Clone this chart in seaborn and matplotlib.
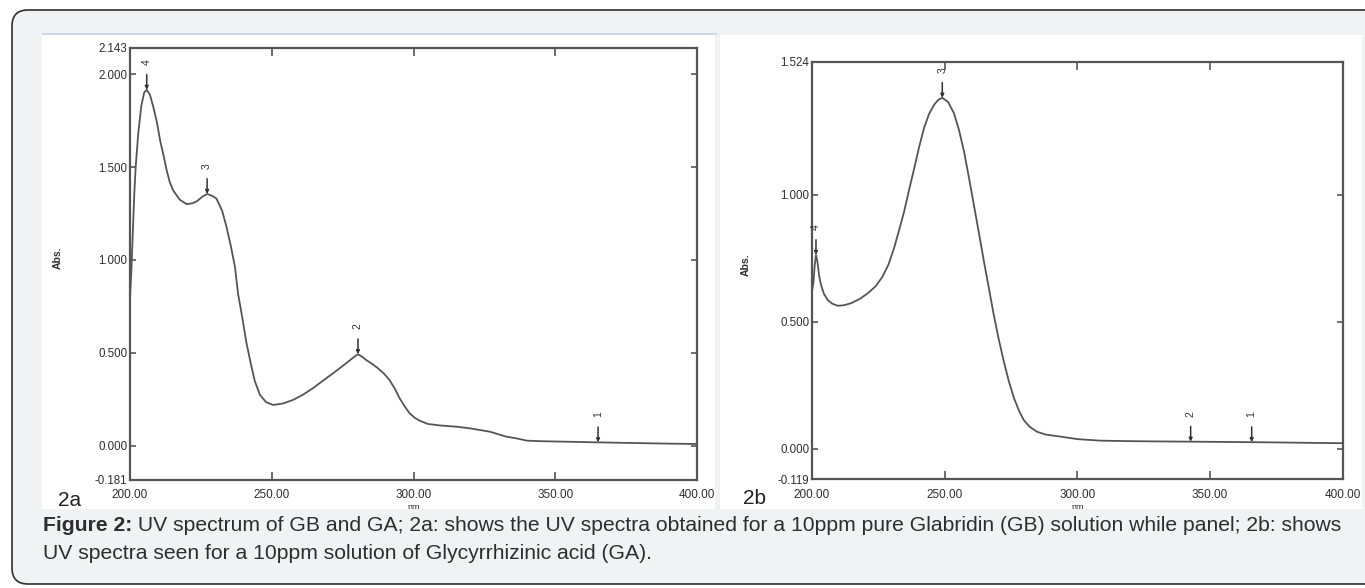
import numpy as np
import pandas as pd
import matplotlib
matplotlib.use("Agg")
import matplotlib.pyplot as plt
import seaborn as sns
from matplotlib.patches import FancyBboxPatch, Rectangle
from matplotlib.transforms import IdentityTransform, Bbox

# --- data ---
gb_nm = [200.0, 200.5, 201.0, 201.5, 202.0, 202.9, 204.0, 205.0, 205.9, 207.0,
         208.2, 209.5, 210.6, 212.0, 212.9, 214.0, 215.2, 217.5, 220.0, 222.0,
         223.5, 225.5, 227.2, 229.0, 230.5, 232.5, 234.0, 235.5, 237.0, 238.1,
         239.5, 241.0, 242.5, 244.0, 245.8, 248.0, 250.5, 254.0, 257.5, 261.0,
         264.5, 268.0, 271.6, 276.3, 278.5, 280.4, 282.0, 283.3, 285.5, 287.4,
         289.5, 291.5, 293.5, 295.1, 297.0, 298.6, 300.5, 302.1, 305.0, 309.2,
         315.2, 320.0, 327.0, 332.6, 336.4, 340.0, 345.0, 355.0, 364.3, 375.0,
         390.0, 400.0]
gb_abs = [0.80, 0.95, 1.15, 1.35, 1.50, 1.68, 1.83, 1.90, 1.915, 1.89,
          1.825, 1.74, 1.645, 1.55, 1.485, 1.42, 1.375, 1.325, 1.30, 1.305,
          1.315, 1.34, 1.355, 1.345, 1.33, 1.265, 1.18, 1.08, 0.965, 0.82,
          0.70, 0.56, 0.45, 0.35, 0.275, 0.235, 0.22, 0.228, 0.247, 0.275,
          0.31, 0.35, 0.39, 0.445, 0.472, 0.493, 0.478, 0.462, 0.44, 0.418,
          0.39, 0.355, 0.305, 0.256, 0.21, 0.176, 0.15, 0.136, 0.118, 0.11,
          0.103, 0.094, 0.076, 0.05, 0.04, 0.028, 0.025, 0.022, 0.019, 0.016,
          0.012, 0.010]
gb_peak_nm = [365.1, 280.4, 227.2, 205.9]
gb_peak_abs = [0.019, 0.493, 1.355, 1.915]
gb_peak_lbl = ["1", "2", "3", "4"]

ga_nm = [200.0, 200.6, 201.0, 201.5, 202.0, 202.7, 203.4, 204.5, 205.9, 207.5,
         209.7, 212.0, 214.7, 218.0, 221.0, 224.0, 226.6, 228.8, 230.9, 232.8,
         234.7, 236.6, 238.5, 240.3, 242.2, 244.1, 246.0, 247.6, 249.1, 251.3,
         253.5, 255.4, 257.3, 259.1, 261.0, 262.9, 264.8, 266.7, 268.5, 270.4,
         272.3, 274.2, 276.1, 278.0, 279.8, 282.0, 284.8, 288.0, 293.6, 300.0,
         308.6, 320.0, 330.0, 342.7, 355.0, 365.7, 375.0, 390.0, 400.0]
ga_abs = [0.62, 0.66, 0.72, 0.763, 0.74, 0.68, 0.645, 0.61, 0.586, 0.572,
          0.563, 0.565, 0.573, 0.59, 0.612, 0.64, 0.678, 0.725, 0.789, 0.86,
          0.933, 1.02, 1.103, 1.185, 1.262, 1.318, 1.354, 1.374, 1.382, 1.365,
          1.321, 1.255, 1.17, 1.07, 0.96, 0.85, 0.737, 0.63, 0.527, 0.43,
          0.343, 0.265, 0.2, 0.15, 0.113, 0.087, 0.067, 0.056, 0.048, 0.038,
          0.032, 0.030, 0.029, 0.028, 0.027, 0.026, 0.025, 0.023, 0.022]
ga_peak_nm = [365.7, 342.7, 249.1, 201.5]
ga_peak_abs = [0.026, 0.028, 1.382, 0.763]
ga_peak_lbl = ["1", "2", "3", "4"]

x_ticks = [200, 250, 300, 350, 400]
gb_yticks = [-0.181, 0.0, 0.5, 1.0, 1.5, 2.0, 2.143]
ga_yticks = [-0.119, 0.0, 0.5, 1.0, 1.524]

caption_bold = "Figure 2:"
caption_line1 = " UV spectrum of GB and GA; 2a: shows the UV spectra obtained for a 10ppm pure Glabridin (GB) solution while panel; 2b: shows"
caption_line2 = "UV spectra seen for a 10ppm solution of Glycyrrhizinic acid (GA)."

W, H = 1365, 588
LINE = "#555555"
TXT = "#2e2e2e"

sns.set_style("ticks")
plt.rcParams['font.family'] = ['Liberation Sans', 'DejaVu Sans']

fig = plt.figure(figsize=(W / 100, H / 100), dpi=100)
fig.patch.set_facecolor("white")


def px_rect(x0, y0, x1, y1):
    # pixel box (top-left origin) -> display coords
    return x0, H - y1, x1 - x0, y1 - y0


# card + white panels
x, y, w, h = px_rect(12, 10, 1400, 584)
fig.add_artist(FancyBboxPatch((x, y), w, h, boxstyle="round,pad=0,rounding_size=16",
                              transform=IdentityTransform(), facecolor="#f1f2f4",
                              edgecolor="#2f2f2f", linewidth=1.2, zorder=-5))
for box in [(42, 35, 715, 509), (720, 35, 1362, 509)]:
    x, y, w, h = px_rect(*box)
    fig.add_artist(Rectangle((x, y), w, h, transform=IdentityTransform(),
                             facecolor="white", edgecolor="none", zorder=-4))
x, y, w, h = px_rect(42, 33, 717, 34.5)
fig.add_artist(Rectangle((x, y), w, h, transform=IdentityTransform(),
                         facecolor="#c9d8ea", edgecolor="none", zorder=-3))


def add_axes_px(left, top, right, bottom):
    return fig.add_axes([left / W, 1 - bottom / H, (right - left) / W, (bottom - top) / H])


def draw_panel(ax, nm, ab, pk_nm, pk_ab, pk_lbl, yticks, nm_y, abs_xy):
    sns.lineplot(x=nm, y=ab, ax=ax, color=LINE, linewidth=1.3, estimator=None)
    ax.set_xlim(200, 400)
    ax.set_ylim(yticks[0], yticks[-1])
    ax.set_facecolor("none")
    ax.set_xticks(x_ticks)
    ax.set_xticklabels([f"{t:.2f}" for t in x_ticks])
    ax.set_yticks(yticks)
    ax.set_yticklabels([f"{t:.3f}" for t in yticks])
    for s in ax.spines.values():
        s.set_visible(True)
        s.set_color(LINE)
        s.set_linewidth(1.6)
    ax.tick_params(axis="x", direction="in", length=6, width=1.2, color=LINE,
                   top=True, bottom=True, labelsize=8.5, labelcolor=TXT, pad=7)
    ax.tick_params(axis="y", direction="in", length=4, width=1.2, color=LINE,
                   left=True, right=True, labelsize=8.3, labelcolor=TXT, pad=2)
    for lx, ly, lb in zip(pk_nm, pk_ab, pk_lbl):
        ax.annotate("", xy=(lx, ly), xytext=(0, 11), textcoords="offset points",
                    arrowprops=dict(arrowstyle="-|>", color="#333333", lw=1.1,
                                    mutation_scale=5, shrinkA=0, shrinkB=0))
        ax.annotate(lb, xy=(lx, ly), xytext=(0, 20), textcoords="offset points",
                    rotation=90, ha="center", va="center", fontsize=7.5,
                    color="#333333")
    ax.set_ylabel("Abs.", fontsize=7.5, color=TXT, fontweight="bold")
    ax.yaxis.set_label_coords(*abs_xy)
    ax.set_xlabel("nm", fontsize=6.5, color=TXT)
    ax.xaxis.set_label_coords(0.5, nm_y, transform=ax.transAxes)
    lbl = ax.xaxis.label
    lbl.set_va("center")
    lbl.set_clip_on(True)
    lbl.set_clip_box(Bbox([[0, H - 509], [W, H]]))


# axes placed on the scan's pixel frame
ax1 = add_axes_px(130, 47.5, 697, 479.5)
draw_panel(ax1, gb_nm, gb_abs, gb_peak_nm, gb_peak_abs, gb_peak_lbl, gb_yticks,
           -(507 - 479.5) / 432, (-0.118, 0.513))
ax2 = add_axes_px(812, 61.7, 1342.7, 479)
draw_panel(ax2, ga_nm, ga_abs, ga_peak_nm, ga_peak_abs, ga_peak_lbl, ga_yticks,
           -(507 - 479) / 417.3, (-0.115, 0.513))

narrow = ['Liberation Sans Narrow', 'Liberation Sans', 'DejaVu Sans']
fig.text(70 / W, 1 - 500 / H, "2a", fontsize=15, family=narrow, color="#222222",
         ha="center", va="center")
fig.text(754 / W, 1 - 498 / H, "2b", fontsize=15, family=narrow, color="#222222",
         ha="center", va="center")

# caption
t_bold = fig.text(43 / W, 1 - 531 / H, caption_bold, fontsize=15.2, fontweight="bold",
                  color=TXT, va="baseline", ha="left")
renderer = fig.canvas.get_renderer()
bb = t_bold.get_window_extent(renderer)
fig.text(bb.x1 / W, 1 - 531 / H, caption_line1, fontsize=15.2, color=TXT,
         va="baseline", ha="left")
fig.text(43 / W, 1 - 559 / H, caption_line2, fontsize=15.2, color=TXT,
         va="baseline", ha="left")

fig.savefig("out.png", dpi=100)
